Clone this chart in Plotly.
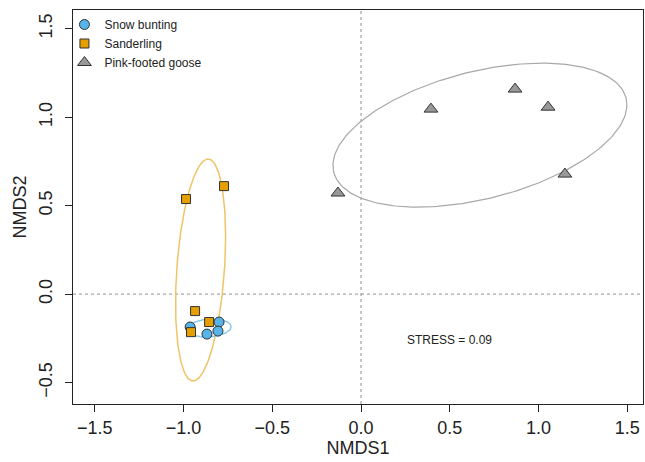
import numpy as np
import plotly.graph_objects as go

# ---- data ----
snow_x = [-0.963, -0.868, -0.800, -0.806]
snow_y = [-0.186, -0.226, -0.158, -0.209]

sand_x = [-0.986, -0.772, -0.935, -0.856, -0.958]
sand_y = [0.537, 0.610, -0.096, -0.158, -0.215]

goose_x = [-0.130, 0.394, 0.868, 1.054, 1.149]
goose_y = [0.571, 1.045, 1.158, 1.056, 0.678]

# ellipse parameters: centre and (xx, xy, yy) shape matrix
snow_ell_center = [-0.856, -0.192]
snow_ell_shape = [0.0154, 0.0009, 0.0026]
sand_ell_center = [-0.904, 0.136]
sand_ell_shape = [0.0199, 0.0265, 0.393]
goose_ell_center = [0.670, 0.898]
goose_ell_shape = [0.686, 0.142, 0.1654]

x_ticks = [-1.5, -1.0, -0.5, 0.0, 0.5, 1.0, 1.5]
y_ticks = [-0.5, 0.0, 0.5, 1.0, 1.5]
stress_text = "STRESS = 0.09"
stress_pos = [0.496, -0.26]

C_SNOW = "#56B4E9"
C_SAND = "#E69F00"
C_GOOSE = "#999999"


def ellipse(center, shape, n=240):
    m = np.array([[shape[0], shape[1]], [shape[1], shape[2]]])
    L = np.linalg.cholesky(m)
    t = np.linspace(0, 2 * np.pi, n)
    pts = L @ np.vstack([np.cos(t), np.sin(t)])
    return center[0] + pts[0], center[1] + pts[1]


fig = go.Figure()

for cen, shp, col, w in [
    (goose_ell_center, goose_ell_shape, "#A8A8A8", 1.2),
    (sand_ell_center, sand_ell_shape, "#F0C466", 1.5),
    (snow_ell_center, snow_ell_shape, "#7CC4EC", 1.3),
]:
    ex, ey = ellipse(cen, shp)
    fig.add_trace(go.Scatter(x=ex, y=ey, mode="lines", line=dict(color=col, width=w),
                             showlegend=False, hoverinfo="skip"))

fig.add_trace(go.Scatter(x=snow_x, y=snow_y, mode="markers", name="Snow bunting",
                         marker=dict(symbol="circle", size=10, color=C_SNOW,
                                     line=dict(color="#333333", width=1))))
fig.add_trace(go.Scatter(x=sand_x, y=sand_y, mode="markers", name="Sanderling",
                         marker=dict(symbol="square", size=9, color=C_SAND,
                                     line=dict(color="#333333", width=1))))
fig.add_trace(go.Scatter(x=goose_x, y=goose_y, mode="markers", name="Pink-footed goose",
                         marker=dict(symbol="triangle-up", size=12, color=C_GOOSE,
                                     line=dict(color="#333333", width=1))))

fig.add_shape(type="line", xref="x", yref="paper", x0=0, x1=0, y0=0, y1=1,
              line=dict(color="#909090", width=1, dash="dot"), layer="below")
fig.add_shape(type="line", xref="paper", yref="y", x0=0, x1=1, y0=0, y1=0,
              line=dict(color="#909090", width=1, dash="dot"), layer="below")

fig.add_annotation(x=stress_pos[0], y=stress_pos[1], text=stress_text, showarrow=False,
                   font=dict(size=12, color="#222222"))

axis_common = dict(showgrid=False, zeroline=False, showline=True, linecolor="#222222",
                   linewidth=1, mirror=True, ticks="outside", ticklen=7, tickwidth=1,
                   tickcolor="#222222", tickfont=dict(size=18, color="#222222"),
                   automargin=False)

fig.update_xaxes(range=[-1.623, 1.589], tickvals=x_ticks,
                 ticktext=[f"{v:.1f}".replace("-", "\u2212") for v in x_ticks],
                 title=dict(text="NMDS1", font=dict(size=18, color="#222222"), standoff=4),
                 **axis_common)
fig.update_yaxes(range=[-0.621, 1.605], tickvals=y_ticks,
                 ticktext=[f"{v:.1f}".replace("-", "\u2212") for v in y_ticks],
                 tickangle=-90, ticklabelstandoff=6,
                 title=dict(text="NMDS2", font=dict(size=18, color="#222222"), standoff=4),
                 **axis_common)

fig.update_layout(
    width=645, height=462,
    margin=dict(l=73, r=2, t=10, b=58),
    paper_bgcolor="white", plot_bgcolor="white",
    font=dict(family="Liberation Sans, Arial, sans-serif", color="#222222"),
    legend=dict(x=-0.015, y=1.0, xanchor="left", yanchor="top", bgcolor="rgba(0,0,0,0)",
                font=dict(size=12, color="#222222"), tracegroupgap=0, itemwidth=30),
)

fig.write_html("out.html", config={"displayModeBar": False},
               post_script="document.body.style.margin='0';")
